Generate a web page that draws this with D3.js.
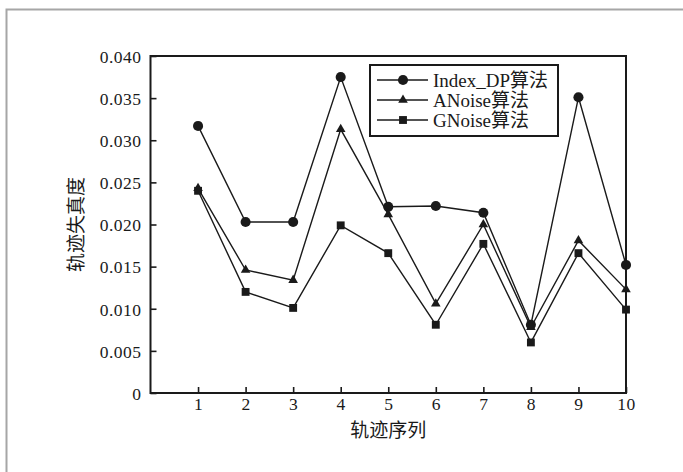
<!DOCTYPE html>
<html>
<head>
<meta charset="utf-8">
<script src="https://cdn.jsdelivr.net/npm/d3@7"></script>
<style>
  html, body { margin: 0; padding: 0; background: #fff; }
  svg { display: block; }
  text { font-family: "Liberation Serif", "DejaVu Serif", "Noto Sans CJK SC", serif; fill: #1a1a1a; }
</style>
</head>
<body>
<svg id="chart" width="683" height="472"></svg>
<script>
// Trajectory index on the x axis
const categories = [1, 2, 3, 4, 5, 6, 7, 8, 9, 10];

// Trajectory distortion per algorithm
const indexDP = [0.0317, 0.0203, 0.0203, 0.0375, 0.0221, 0.0222, 0.0214, 0.0081, 0.0351, 0.0152];
const aNoise  = [0.0243, 0.0146, 0.0134, 0.0313, 0.0212, 0.0106, 0.0200, 0.0078, 0.0181, 0.0123];
const gNoise  = [0.0240, 0.0120, 0.0101, 0.0199, 0.0166, 0.0081, 0.0177, 0.0060, 0.0166, 0.0099];

const seriesNames = ["Index_DP算法", "ANoise算法", "GNoise算法"];
const yTicks = [0, 0.005, 0.010, 0.015, 0.020, 0.025, 0.030, 0.035, 0.040];
const xLabel = "轨迹序列";
const yLabel = "轨迹失真度";

const svg = d3.select("#chart");
const W = 683, H = 472;
const m = { left: 150.5, right: 626, top: 56, bottom: 393 };

// Light frame along the top and left edges of the figure
svg.append("path")
  .attr("d", `M6.5,${H} V9.5 H${W}`)
  .attr("fill", "none").attr("stroke", "#a6a6a6").attr("stroke-width", 2);

const x = d3.scaleLinear().domain([0, 10]).range([m.left, m.right]);
const y = d3.scaleLinear().domain([0, 0.04]).range([m.bottom, m.top]);

// Axes with inward ticks
const xAxis = d3.axisBottom(x).tickValues(categories).tickSize(-6).tickPadding(5).tickFormat(d3.format("d"));
const yAxis = d3.axisLeft(y).tickValues(yTicks).tickSize(-6).tickPadding(9)
  .tickFormat(d => d === 0 ? "0" : d3.format(".3f")(d));

const gx = svg.append("g").attr("transform", `translate(0,${m.bottom})`).call(xAxis);
const gy = svg.append("g").attr("transform", `translate(${m.left},0)`).call(yAxis);
[gx, gy].forEach(g => {
  g.attr("font-family", null);
  g.select(".domain").remove();
  g.selectAll(".tick line").attr("stroke", "#1a1a1a").attr("stroke-width", 1.6);
  g.selectAll(".tick text").style("font-size", "17.5px").style("letter-spacing", "0.5px").attr("fill", "#1a1a1a");
});
gy.selectAll(".tick text").attr("dy", "0.36em");

// Plot frame
svg.append("rect")
  .attr("x", m.left).attr("y", m.top)
  .attr("width", m.right - m.left).attr("height", m.bottom - m.top)
  .attr("fill", "none").attr("stroke", "#1a1a1a").attr("stroke-width", 2);

// Axis titles
svg.append("text")
  .attr("x", (m.left + m.right) / 2).attr("y", 437)
  .attr("text-anchor", "middle")
  .style("font-size", "19px")
  .text(xLabel);

svg.append("text")
  .attr("transform", `translate(83,${(m.top + m.bottom) / 2}) rotate(-90)`)
  .attr("text-anchor", "middle")
  .style("font-size", "19px")
  .text(yLabel);

// Series
const symbols = [d3.symbolCircle, d3.symbolTriangle, d3.symbolSquare];
const sizes = [80, 40, 62];
const series = [indexDP, aNoise, gNoise];
const line = d3.line().x((d, i) => x(categories[i])).y(d => y(d));

series.forEach((vals, s) => {
  const g = svg.append("g");
  g.append("path")
    .attr("d", line(vals))
    .attr("fill", "none").attr("stroke", "#1a1a1a").attr("stroke-width", 1.4);
  g.selectAll("path.mk").data(vals).enter().append("path")
    .attr("class", "mk")
    .attr("transform", (d, i) => `translate(${x(categories[i])},${y(d)})`)
    .attr("d", d3.symbol().type(symbols[s]).size(sizes[s]))
    .attr("fill", "#1a1a1a");
});

// Legend
const lg = svg.append("g");
lg.append("rect")
  .attr("x", 370).attr("y", 65).attr("width", 188).attr("height", 71)
  .attr("fill", "#fff").attr("stroke", "#1a1a1a").attr("stroke-width", 2);
const rowY = [80, 100, 120];
seriesNames.forEach((name, s) => {
  lg.append("line")
    .attr("x1", 377).attr("x2", 428).attr("y1", rowY[s]).attr("y2", rowY[s])
    .attr("stroke", "#1a1a1a").attr("stroke-width", 1.4);
  lg.append("path")
    .attr("transform", `translate(403,${rowY[s]})`)
    .attr("d", d3.symbol().type(symbols[s]).size(sizes[s]))
    .attr("fill", "#1a1a1a");
  lg.append("text")
    .attr("x", 433).attr("y", rowY[s]).attr("dy", "0.35em")
    .style("font-size", "19px")
    .text(name);
});
</script>
</body>
</html>
